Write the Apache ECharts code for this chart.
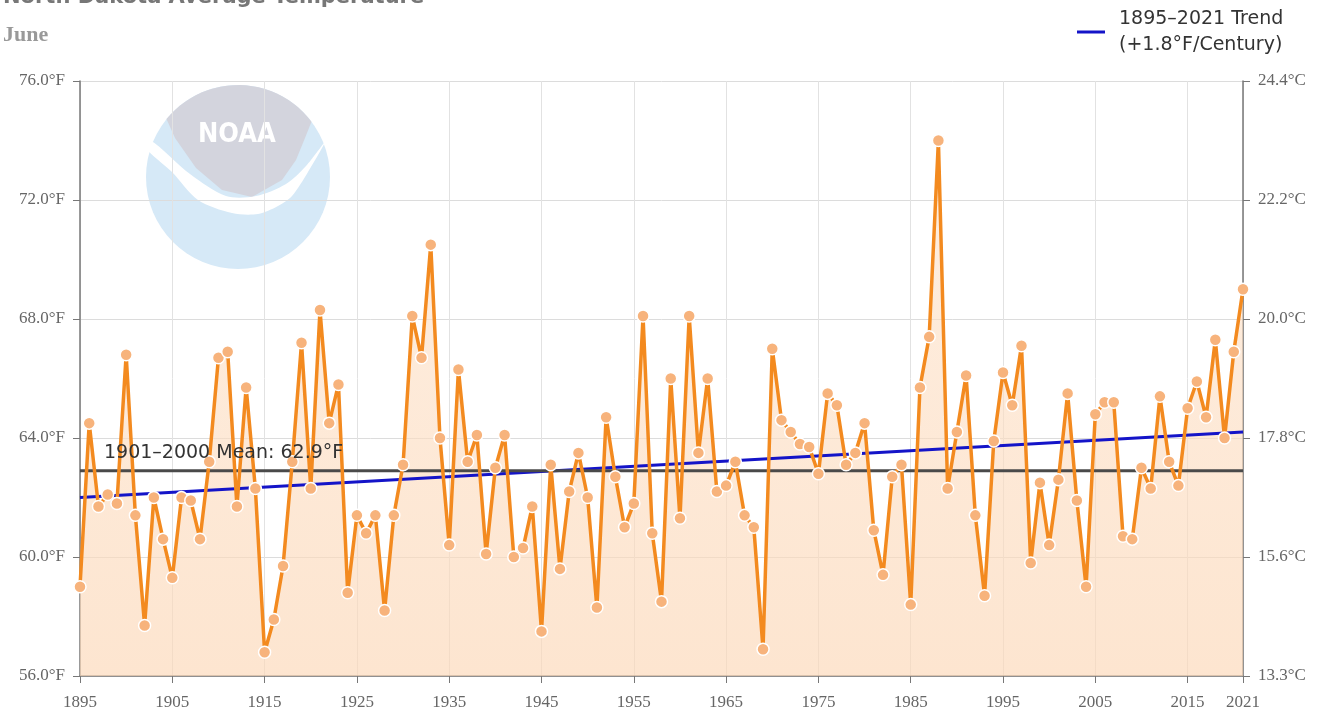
<!DOCTYPE html>
<html>
<head>
<meta charset="utf-8">
<title>North Dakota Average Temperature - June</title>
<script src="https://cdn.jsdelivr.net/npm/echarts@6/dist/echarts.min.js"></script>
<style>
  html, body { margin: 0; padding: 0; background: #fff; }
  #chart { width: 1323px; height: 714px; }
</style>
</head>
<body>
<div id="chart"></div>
<script>
// June average temperature (°F), one value per year
var years = []
for (var y = 1895; y <= 2021; y++) years.push(y)

var temps = [
  59.0, 64.5, 61.7, 62.1, 61.8, 66.8, 61.4, 57.7, 62.0, 60.6, // 1895-1904
  59.3, 62.0, 61.9, 60.6, 63.2, 66.7, 66.9, 61.7, 65.7, 62.3, // 1905-1914
  56.8, 57.9, 59.7, 63.2, 67.2, 62.3, 68.3, 64.5, 65.8, 58.8, // 1915-1924
  61.4, 60.8, 61.4, 58.2, 61.4, 63.1, 68.1, 66.7, 70.5, 64.0, // 1925-1934
  60.4, 66.3, 63.2, 64.1, 60.1, 63.0, 64.1, 60.0, 60.3, 61.7, // 1935-1944
  57.5, 63.1, 59.6, 62.2, 63.5, 62.0, 58.3, 64.7, 62.7, 61.0, // 1945-1954
  61.8, 68.1, 60.8, 58.5, 66.0, 61.3, 68.1, 63.5, 66.0, 62.2, // 1955-1964
  62.4, 63.2, 61.4, 61.0, 56.9, 67.0, 64.6, 64.2, 63.8, 63.7, // 1965-1974
  62.8, 65.5, 65.1, 63.1, 63.5, 64.5, 60.9, 59.4, 62.7, 63.1, // 1975-1984
  58.4, 65.7, 67.4, 74.0, 62.3, 64.2, 66.1, 61.4, 58.7, 63.9, // 1985-1994
  66.2, 65.1, 67.1, 59.8, 62.5, 60.4, 62.6, 65.5, 61.9, 59.0, // 1995-2004
  64.8, 65.2, 65.2, 60.7, 60.6, 63.0, 62.3, 65.4, 63.2, 62.4, // 2005-2014
  65.0, 65.9, 64.7, 67.3, 64.0, 66.9, 69.0                    // 2015-2021
]

var meanValue = 62.9              // 1901-2000 mean
var trendYears = [1895, 2021]
var trendValues = [62.0, 64.2]    // +1.8°F/century trend end points

var trendName = '1895\u20132021 Trend\n(+1.8\u00b0F/Century)'

var tempData = years.map(function (yr, i) { return [yr, temps[i]] })
var trendData = trendYears.map(function (yr, i) { return [yr, trendValues[i]] })

var labelFont = '"Liberation Serif", "DejaVu Serif", serif'
var textFont = '"DejaVu Sans", Verdana, sans-serif'

// logo outline: top cap of the circle plus a curved lower edge
var logoC = [238, 177], logoR = 92
var capPts = []
for (var a = -141; a <= -37; a += 4) {
  var rad = a * Math.PI / 180
  capPts.push([logoC[0] + logoR * Math.cos(rad), logoC[1] + logoR * Math.sin(rad)])
}
capPts = capPts.concat([[305, 138], [296, 160], [282, 180], [252, 197], [222, 190], [196, 168], [175, 138]])
var gullPts = [[146, 148], [172, 172], [198, 200], [232, 213], [258, 214], [278, 206], [292, 196],
  [308, 172], [325, 142], [306, 166], [286, 184], [256, 196], [226, 196], [190, 174], [150, 140]]

var chart = echarts.init(document.getElementById('chart'))

var option = {
  animation: false,
  backgroundColor: '#fff',
  grid: { left: 80, right: 80, top: 81, bottom: 38 },
  legend: {
    left: 1072,
    top: 1,
    itemWidth: 28,
    itemHeight: 3,
    icon: 'rect',
    selectedMode: false,
    data: [trendName],
    textStyle: { fontFamily: textFont, fontSize: 19, color: '#333', lineHeight: 26, padding: [0, 0, 0, 9] }
  },
  graphic: [
    // pale NOAA watermark
    { type: 'circle', shape: { cx: logoC[0], cy: logoC[1], r: logoR }, style: { fill: '#d6e9f7' }, silent: true, z: 0 },
    { type: 'polygon', shape: { points: capPts }, style: { fill: '#d3d4dd' }, silent: true, z: 0 },
    { type: 'polygon', shape: { points: gullPts, smooth: 0.3 }, style: { fill: '#ffffff' }, silent: true, z: 0 },
    {
      type: 'text', left: 198, top: 121, silent: true, z: 0,
      style: { text: 'NOAA', fill: '#ffffff', font: 'bold 27px "DejaVu Sans Condensed", "DejaVu Sans", sans-serif' }
    },
    {
      type: 'text', left: 3, top: -13,
      style: { text: 'North Dakota Average Temperature', fill: '#777', font: 'bold 21px "DejaVu Sans", sans-serif' }
    },
    {
      type: 'text', left: 3, top: 24,
      style: { text: 'June', fill: '#999', font: 'bold 22px "Liberation Serif", serif' }
    }
  ],
  xAxis: {
    type: 'value',
    min: 1895,
    max: 2021,
    interval: 10,
    axisLine: { lineStyle: { color: '#777', width: 1.5 } },
    axisTick: { length: 7, lineStyle: { color: '#777' } },
    axisLabel: {
      color: '#666', fontFamily: labelFont, fontSize: 17, margin: 18,
      formatter: function (v) { return String(v) }
    },
    splitLine: { lineStyle: { color: '#e2e2e2' } }
  },
  yAxis: [
    {
      type: 'value',
      min: 56,
      max: 76,
      interval: 4,
      axisLine: { show: true, lineStyle: { color: '#777', width: 1.5 } },
      axisTick: { show: true, length: 7, lineStyle: { color: '#777' } },
      axisLabel: {
        color: '#666', fontFamily: labelFont, fontSize: 17, margin: 15,
        formatter: function (v) { return v.toFixed(1) + '\u00b0F' }
      },
      splitLine: { lineStyle: { color: '#dcdcdc' } }
    },
    {
      type: 'value',
      position: 'right',
      min: 56,
      max: 76,
      interval: 4,
      axisLine: { show: true, lineStyle: { color: '#777', width: 1.5 } },
      axisTick: { show: true, length: 7, lineStyle: { color: '#777' } },
      axisLabel: {
        color: '#666', fontFamily: labelFont, fontSize: 17, margin: 15,
        formatter: function (v) { return ((v - 32) * 5 / 9).toFixed(1) + '\u00b0C' }
      },
      splitLine: { show: false }
    }
  ],
  series: [
    {
      // area under the temperature line
      name: 'area',
      type: 'line',
      data: tempData,
      symbol: 'none',
      lineStyle: { width: 0 },
      areaStyle: {
        origin: 'start',
        color: new echarts.graphic.LinearGradient(0, 0, 0, 1, [
          { offset: 0, color: 'rgba(253, 226, 202, 0.85)' },
          { offset: 1, color: 'rgba(252, 216, 184, 0.95)' }
        ])
      },
      silent: true,
      z: 1
    },
    {
      name: trendName,
      type: 'line',
      data: trendData,
      symbol: 'none',
      color: '#1414c8',
      lineStyle: { color: '#1414c8', width: 3 },
      z: 2
    },
    {
      name: 'mean',
      type: 'line',
      data: [[trendYears[0], meanValue], [trendYears[1], meanValue]],
      symbol: 'none',
      lineStyle: { color: '#4a4a4a', width: 3 },
      z: 3
    },
    {
      name: 'June',
      type: 'line',
      data: tempData,
      symbol: 'circle',
      symbolSize: 12,
      itemStyle: { color: '#f7b37c', borderColor: '#fff', borderWidth: 1.5 },
      lineStyle: { color: '#f38a1f', width: 3.5 },
      z: 4
    }
  ]
}

chart.setOption(option)

// mean label, placed just above the mean line
var meanPos = chart.convertToPixel({ xAxisIndex: 0, yAxisIndex: 0 }, [1897.6, meanValue])
chart.setOption({
  graphic: option.graphic.concat([{
    type: 'text',
    left: meanPos[0],
    top: meanPos[1] - 27,
    style: {
      text: '1901\u20132000 Mean: ' + meanValue.toFixed(1) + '\u00b0F',
      fill: '#333', font: '19px ' + textFont
    },
    z: 10
  }])
})
</script>
</body>
</html>
